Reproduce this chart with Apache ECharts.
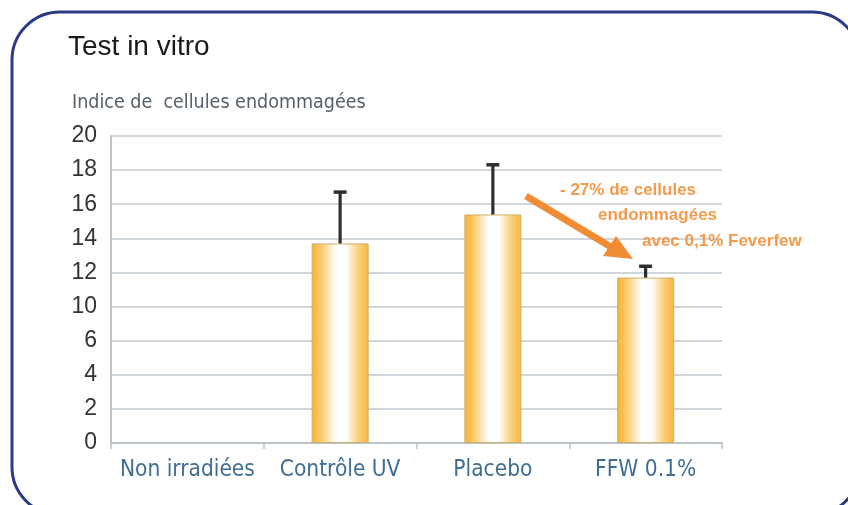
<!DOCTYPE html>
<html>
<head>
<meta charset="utf-8">
<script src="https://cdn.jsdelivr.net/npm/echarts@6/dist/echarts.min.js"></script>
<style>
html,body{margin:0;padding:0;background:#fff;}
#chart{width:848px;height:505px;}
</style>
</head>
<body>
<div id="chart"></div>
<script>
// ---- data (values as read on the printed scale) ----
var categories = ['Non irradiées', 'Contrôle UV', 'Placebo', 'FFW 0.1%'];
var values = [null, 13.7, 15.4, 11.7];
var errors = [null, 3.1, 3.0, 0.75];
var tickLabels = ['0', '2', '4', '6', '10', '12', '14', '16', '18', '20'];

// The printed axis skips "8": above 6 the labels run 10..20 on consecutive gridlines.
function toAxis(v) { return v >= 8 ? v - 2 : v; }

var NARROW = '"DejaVu Sans Condensed", Roboto, sans-serif';

var chart = echarts.init(document.getElementById('chart'), null, {renderer: 'canvas'});

var barData = values.map(function (v) { return v == null ? '-' : toAxis(v); });
var errData = [];
values.forEach(function (v, i) {
  if (v != null) errData.push([i, toAxis(v), toAxis(v + errors[i])]);
});

var barGradient = new echarts.graphic.LinearGradient(0, 0, 1, 0, [
  {offset: 0, color: '#f6b22c'},
  {offset: 0.2, color: '#fbd07a'},
  {offset: 0.42, color: '#ffffff'},
  {offset: 0.6, color: '#ffffff'},
  {offset: 0.82, color: '#fbcf78'},
  {offset: 1, color: '#f7b63e'}
]);

var option = {
  animation: false,
  backgroundColor: '#ffffff',
  title: [
    {text: 'Test in vitro', left: 63, top: 28,
     textStyle: {fontFamily: 'Liberation Sans', fontSize: 28, fontWeight: 'normal', color: '#1a1a1a'}},
    {text: 'Indice de  cellules endommagées', left: 67, top: 88,
     textStyle: {fontFamily: NARROW, fontSize: 19.5, fontWeight: 'normal', color: '#56606a'}}
  ],
  grid: {left: 111, right: 126, top: 136, bottom: 62, containLabel: false},
  xAxis: {
    type: 'category',
    data: categories,
    boundaryGap: true,
    axisLine: {show: true, lineStyle: {color: '#b9c4cc', width: 2}},
    axisTick: {show: true, length: 6, lineStyle: {color: '#b9c4cc', width: 1.5}},
    axisLabel: {interval: 0, margin: 16, fontFamily: NARROW, fontSize: 22.5, color: '#3f6d94'},
    splitLine: {show: false}
  },
  yAxis: {
    type: 'value',
    min: 0, max: 18, interval: 2,
    axisLine: {show: true, lineStyle: {color: '#b9c4cc', width: 2}},
    axisTick: {show: false},
    axisLabel: {
      margin: 14, fontFamily: 'Liberation Sans', fontSize: 23, color: '#333333',
      formatter: function (v) { return tickLabels[Math.round(v / 2)]; }
    },
    splitLine: {show: true, lineStyle: {color: '#bfc9d1', width: 1.5}}
  },
  series: [
    {
      type: 'bar',
      data: barData,
      barWidth: 57,
      itemStyle: {color: barGradient, borderColor: '#cfae6a', borderWidth: 1}
    },
    {
      type: 'custom',
      data: errData,
      z: 5,
      renderItem: function (params, api) {
        var base = api.coord([api.value(0), api.value(1)]);
        var top = api.coord([api.value(0), api.value(2)]);
        return {
          type: 'group',
          children: [
            {type: 'line', shape: {x1: base[0], y1: base[1], x2: top[0], y2: top[1] + 1},
             style: {stroke: '#2f2f2f', lineWidth: 3.2}},
            {type: 'line', shape: {x1: top[0] - 6.5, y1: top[1] + 1.5, x2: top[0] + 6.5, y2: top[1] + 1.5},
             style: {stroke: '#2f2f2f', lineWidth: 3.5}}
          ]
        };
      }
    }
  ],
  graphic: [
    {type: 'rect', shape: {x: 12, y: 12, width: 848, height: 503, r: 48},
     style: {fill: 'none', stroke: '#2b3a85', lineWidth: 3}, z: 10},
    {type: 'line', shape: {x1: 526, y1: 196, x2: 611, y2: 247},
     style: {stroke: '#f08c33', lineWidth: 7}, z: 10},
    {type: 'polygon', shape: {points: [[616, 236], [603, 256], [633, 259]]},
     style: {fill: '#f08c33'}, z: 10},
    {type: 'text', left: 560, top: 182,
     style: {text: '- 27% de cellules', font: 'bold 17px "Liberation Sans"', fill: '#f39a4c'}, z: 10},
    {type: 'text', left: 598, top: 207,
     style: {text: 'endommagées', font: 'bold 17px "Liberation Sans"', fill: '#f39a4c'}, z: 10},
    {type: 'text', left: 642, top: 233,
     style: {text: 'avec 0,1% Feverfew', font: 'bold 17px "Liberation Sans"', fill: '#f39a4c'}, z: 10}
  ]
};
chart.setOption(option);
</script>
</body>
</html>
